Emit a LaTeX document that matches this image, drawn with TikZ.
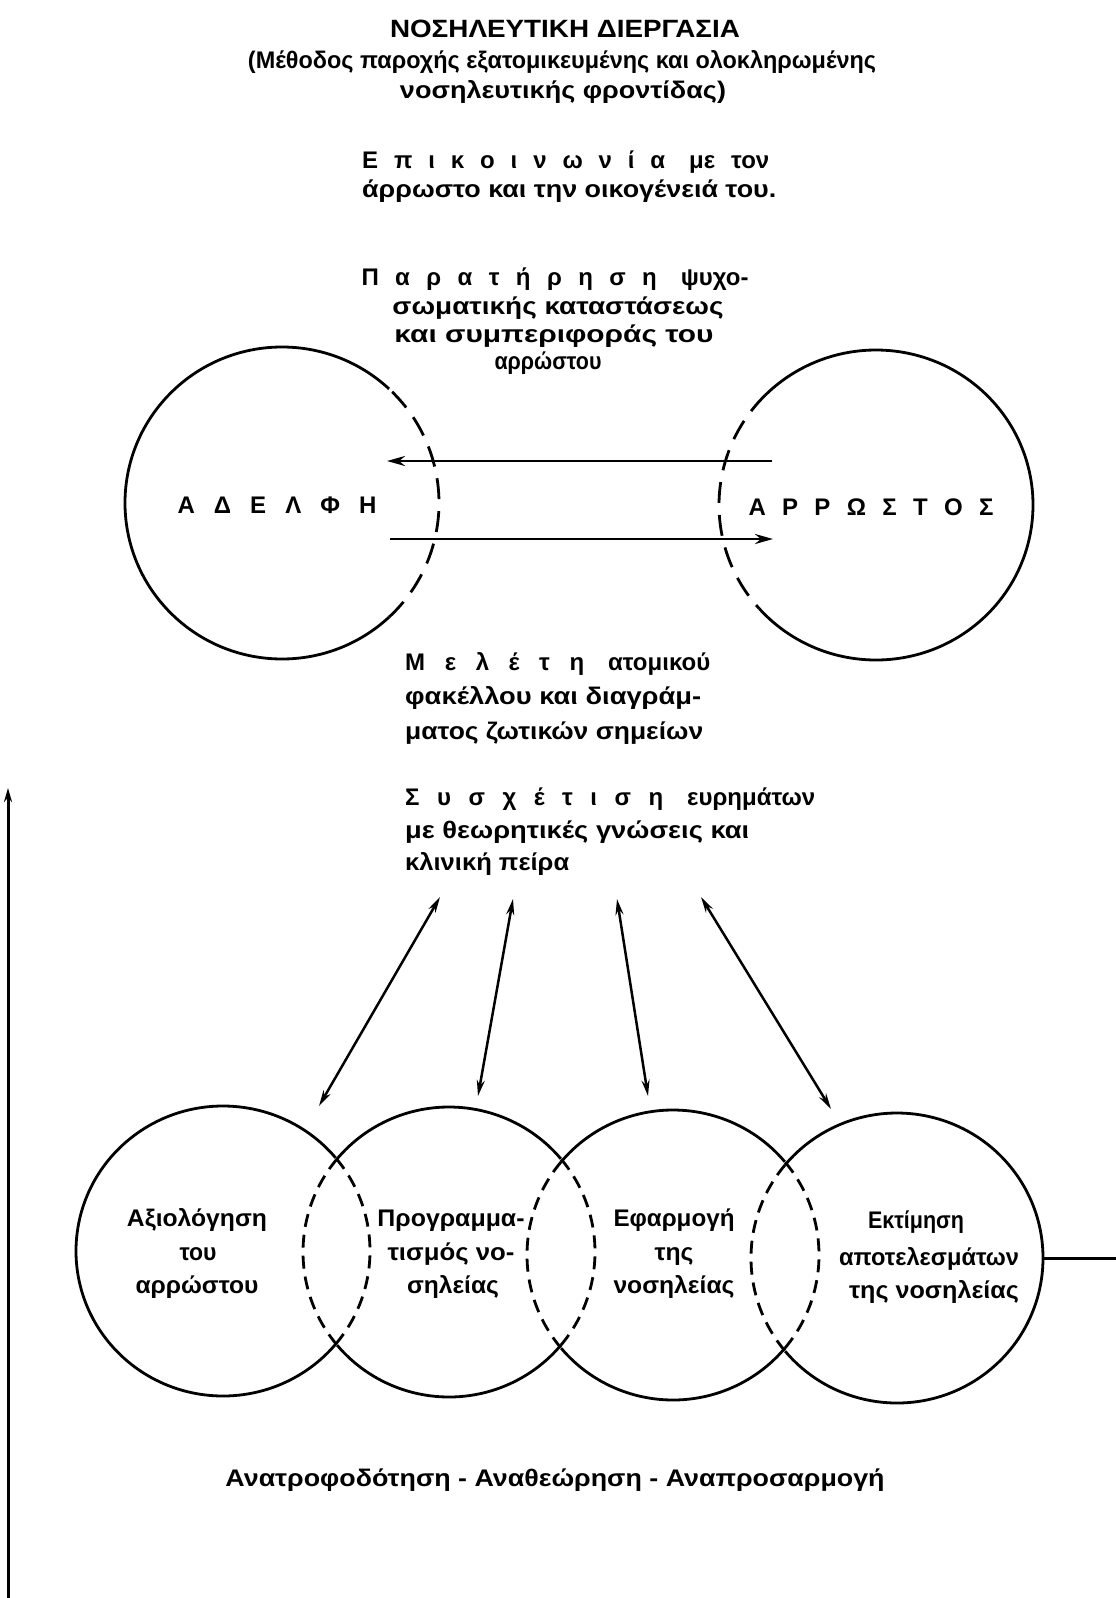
\documentclass[tikz,border=0pt]{standalone}
\usepackage{fontspec}
\setmainfont{Liberation Sans}
\usetikzlibrary{arrows.meta,calc}
\newcommand{\fw}[2]{\resizebox{#1}{\height}{#2}}
\newcommand{\sw}[2]{\makebox[#1][s]{#2}}
\hbadness=10000
\begin{document}
\begin{tikzpicture}[x=1pt,y=-1pt,
  txt/.style={inner sep=0pt,font=\bfseries\fontsize{24}{28}\selectfont},
  solidline/.style={line width=2.8pt},
  dashtop/.style={line width=2.8pt,dash pattern=on 21pt off 12pt},
  dashbot/.style={line width=2.8pt,dash pattern=on 13pt off 8pt},
  onearrow/.style={line width=2.8pt,-{Stealth[length=18pt,width=10pt]}},
  twoarrow/.style={line width=2.5pt,{Stealth[length=16pt,width=8pt]}-{Stealth[length=16pt,width=8pt]}},
  plainline/.style={line width=3pt}
]
\fill[white] (0,0) rectangle (1116,1598);
\useasboundingbox (0,0) rectangle (1116,1598);

% ---------- heading ----------
\node[txt,font=\bfseries\fontsize{25}{29}\selectfont,anchor=base] (title) at (565,37) {\fw{350pt}{ΝΟΣΗΛΕΥΤΙΚΗ ΔΙΕΡΓΑΣΙΑ}};
\node[txt,anchor=base] (sub1) at (562,68) {\fw{628pt}{(Μέθοδος παροχής εξατομικευμένης και ολοκληρωμένης}};
\node[txt,anchor=base] (sub2) at (563,98) {\fw{326pt}{νοσηλευτικής φροντίδας)}};

\node[txt,anchor=base west] (com1) at (362,168) {\sw{407pt}{Ε π ι κ ο ι ν ω ν ί α\quad με τον}};
\node[txt,anchor=base west] (com2) at (362,197) {\fw{414pt}{άρρωστο και την οικογένειά του.}};

\node[txt,anchor=base] (obs1) at (555,285) {\sw{387pt}{Π α ρ α τ ή ρ η σ η\quad ψυχο-}};
\node[txt,anchor=base] (obs2) at (558,314) {\fw{331pt}{σωματικής καταστάσεως}};
\node[txt,anchor=base] (obs3) at (554,342) {\fw{319pt}{και συμπεριφοράς του}};
\node[txt,anchor=base] (obs4) at (548,369) {\fw{107pt}{αρρώστου}};

% ---------- upper pair of circles ----------
\coordinate (L) at (282,503);
\coordinate (R) at (876,505);
\draw[solidline] ($(L)+(47:157pt and 156pt)$) arc[start angle=47,end angle=313,x radius=157pt,y radius=156pt];
\draw[dashtop] ($(L)+(-47:157pt and 156pt)$) arc[start angle=-47,end angle=47,x radius=157pt,y radius=156pt];
\draw[dashtop] ($(R)+(135:157pt and 155pt)$) arc[start angle=135,end angle=222,x radius=157pt,y radius=155pt];
\draw[solidline] ($(R)+(222:157pt and 155pt)$) arc[start angle=222,end angle=495,x radius=157pt,y radius=155pt];

\node[txt,anchor=base] (sister) at (277,513) {\sw{199pt}{Α Δ Ε Λ Φ Η}};
\node[txt,anchor=base] (patient) at (871,515) {\sw{245pt}{Α Ρ Ρ Ω Σ Τ Ο Σ}};

\coordinate (up1) at (772,461);
\coordinate (up2) at (387,461);
\coordinate (lo1) at (390,539);
\coordinate (lo2) at (773,539);
\draw[onearrow] (up1) -- (up2);
\draw[onearrow] (lo1) -- (lo2);

% ---------- middle text ----------
\node[txt,anchor=base west] (st1) at (405,670) {\sw{305pt}{Μ ε λ έ τ η\quad ατομικού}};
\node[txt,anchor=base west] (st2) at (405,704) {\fw{296pt}{φακέλλου και διαγράμ-}};
\node[txt,anchor=base west] (st3) at (405,739) {\fw{298pt}{ματος ζωτικών σημείων}};
\node[txt,anchor=base west] (co1) at (405,805) {\sw{410pt}{Σ υ σ χ έ τ ι σ η\quad ευρημάτων}};
\node[txt,anchor=base west] (co2) at (405,838) {\fw{344pt}{με θεωρητικές γνώσεις και}};
\node[txt,anchor=base west] (co3) at (405,870) {\fw{164pt}{κλινική πείρα}};

% ---------- four double arrows ----------
\coordinate (a1t) at (440,897);  \coordinate (a1b) at (319,1106);
\coordinate (a2t) at (513,899);  \coordinate (a2b) at (478,1096);
\coordinate (a3t) at (617,899);  \coordinate (a3b) at (648,1096);
\coordinate (a4t) at (701,897);  \coordinate (a4b) at (831,1109);
\draw[twoarrow] (a1t) -- (a1b);
\draw[twoarrow] (a2t) -- (a2b);
\draw[twoarrow] (a3t) -- (a3b);
\draw[twoarrow] (a4t) -- (a4b);

% ---------- lower chain of circles ----------
\coordinate (E1) at (223,1251);
\coordinate (E2) at (449,1252);
\coordinate (E3) at (673,1255);
\coordinate (E4) at (897,1258);
\draw[solidline] ($(E1)+(40:147pt and 145pt)$) arc[start angle=40,end angle=320,x radius=147pt,y radius=145pt];
\draw[dashbot] ($(E1)+(-40:147pt and 145pt)$) arc[start angle=-40,end angle=40,x radius=147pt,y radius=145pt];
\foreach \c in {E2,E3}{
  \draw[solidline] ($(\c)+(40:146pt and 145pt)$) arc[start angle=40,end angle=140,x radius=146pt,y radius=145pt];
  \draw[dashbot] ($(\c)+(140:146pt and 145pt)$) arc[start angle=140,end angle=220,x radius=146pt,y radius=145pt];
  \draw[solidline] ($(\c)+(220:146pt and 145pt)$) arc[start angle=220,end angle=320,x radius=146pt,y radius=145pt];
  \draw[dashbot] ($(\c)+(-40:146pt and 145pt)$) arc[start angle=-40,end angle=40,x radius=146pt,y radius=145pt];
}
\draw[dashbot] ($(E4)+(140:146pt and 145pt)$) arc[start angle=140,end angle=220,x radius=146pt,y radius=145pt];
\draw[solidline] ($(E4)+(220:146pt and 145pt)$) arc[start angle=220,end angle=500,x radius=146pt,y radius=145pt];

\node[txt,anchor=base] (e1a) at (197,1226) {\fw{140pt}{Αξιολόγηση}};
\node[txt,anchor=base] (e1b) at (198,1260) {\fw{37pt}{του}};
\node[txt,anchor=base] (e1c) at (197,1293) {\fw{123pt}{αρρώστου}};

\node[txt,anchor=base] (e2a) at (451,1226) {\fw{147pt}{Προγραμμα-}};
\node[txt,anchor=base] (e2b) at (451,1260) {\fw{127pt}{τισμός νο-}};
\node[txt,anchor=base] (e2c) at (453,1293) {\fw{92pt}{σηλείας}};

\node[txt,anchor=base] (e3a) at (674,1226) {\fw{121pt}{Εφαρμογή}};
\node[txt,anchor=base] (e3b) at (674,1260) {\fw{39pt}{της}};
\node[txt,anchor=base] (e3c) at (674,1293) {\fw{121pt}{νοσηλείας}};

\node[txt,anchor=base] (e4a) at (916,1228) {\fw{96pt}{Εκτίμηση}};
\node[txt,anchor=base] (e4b) at (929,1265) {\fw{180pt}{αποτελεσμάτων}};
\node[txt,anchor=base] (e4c) at (934,1298) {\fw{170pt}{της νοσηλείας}};

% ---------- feedback ----------
\coordinate (rgt1) at (1043,1258);
\coordinate (rgt2) at (1116,1258);
\draw[plainline] (rgt1) -- (rgt2);
\coordinate (fb1) at (8,1598);
\coordinate (fb2) at (8,788);
\draw[line width=3pt,-{Stealth[length=14pt,width=8pt]}] (fb1) -- (fb2);

\node[txt,anchor=base] (fbtext) at (555,1486) {\fw{659pt}{Ανατροφοδότηση - Αναθεώρηση - Αναπροσαρμογή}};
\end{tikzpicture}
\end{document}
